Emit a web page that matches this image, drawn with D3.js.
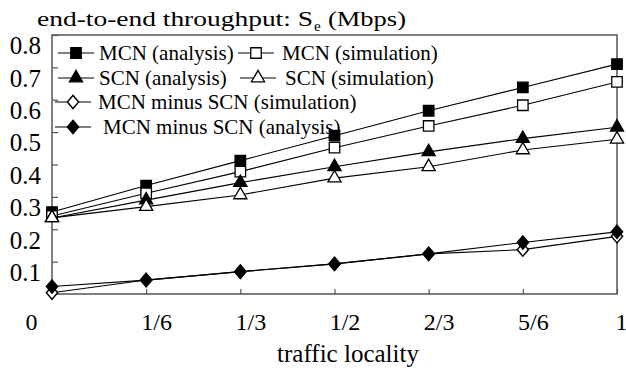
<!DOCTYPE html>
<html>
<head>
<meta charset="utf-8">
<script src="https://cdn.jsdelivr.net/npm/d3@7"></script>
<style>
  body { margin: 0; background: #fff; }
</style>
</head>
<body>
<div id="chart"></div>
<script>
// traffic locality categories
const categories = ['0', '1/6', '1/3', '1/2', '2/3', '5/6', '1'];
const yTicks = [0.1, 0.2, 0.3, 0.4, 0.5, 0.6, 0.7, 0.8];

// end-to-end throughput (Mbps)
const mcnAnalysis = [0.253, 0.335, 0.412, 0.489, 0.566, 0.638, 0.710];
const mcnSimulation = [0.241, 0.311, 0.378, 0.452, 0.519, 0.583, 0.655];
const scnAnalysis = [0.235, 0.290, 0.344, 0.393, 0.439, 0.480, 0.515];
const scnSimulation = [0.235, 0.270, 0.306, 0.358, 0.393, 0.445, 0.478];
const diffSimulation = [0.004, 0.043, 0.069, 0.093, 0.124, 0.137, 0.178];
const diffAnalysis = [0.023, 0.043, 0.069, 0.093, 0.124, 0.159, 0.192];

const series = [
  {name: 'MCN (analysis)', values: mcnAnalysis, shape: 'square', fill: '#000'},
  {name: 'MCN (simulation)', values: mcnSimulation, shape: 'square', fill: '#fff'},
  {name: 'SCN (analysis)', values: scnAnalysis, shape: 'triangle', fill: '#000'},
  {name: 'SCN (simulation)', values: scnSimulation, shape: 'triangle', fill: '#fff'},
  {name: 'MCN minus SCN (simulation)', values: diffSimulation, shape: 'diamond', fill: '#fff'},
  {name: 'MCN minus SCN (analysis)', values: diffAnalysis, shape: 'diamond', fill: '#000'}
];

const FONT = '"Liberation Serif", "DejaVu Serif", serif';

const W = 626, H = 370;
const margin = {top: 35, right: 9, bottom: 76, left: 52};
const width = W - margin.left - margin.right,
  height = H - margin.top - margin.bottom;

const svg = d3.select('#chart').append('svg')
  .attr('width', W)
  .attr('height', H)
  .style('font-family', FONT);

const chart = svg.append('g')
  .attr('transform', 'translate(' + margin.left + ',' + margin.top + ')');

const x = d3.scalePoint()
  .domain(categories)
  .range([0, width]);

const y = d3.scaleLinear()
  .domain([0, 0.8])
  .range([height, 0]);

const symbolType = {square: d3.symbolSquare, triangle: d3.symbolTriangle, diamond: d3.symbolDiamond};
const symbolSize = {square: 110, triangle: 75, diamond: 70};

function marker(sel, s) {
  sel.append('path')
    .attr('d', d3.symbol(symbolType[s.shape], symbolSize[s.shape]))
    .attr('transform', s.shape === 'diamond' ? 'scale(1.25,0.85)' : null)
    .attr('fill', s.fill)
    .attr('stroke', '#000')
    .attr('stroke-width', 1.3);
}

// frame
chart.append('rect')
  .attr('width', width)
  .attr('height', height)
  .attr('fill', 'none')
  .attr('stroke', '#555')
  .attr('stroke-width', 1.5);

// y axis: ticks inward, labels sit a bit low as in the original
const yAxis = chart.append('g')
  .call(d3.axisRight(y).tickValues(yTicks).tickSize(6).tickFormat(d3.format('.1f')))
  .attr('font-family', null)
  .attr('font-size', null);
yAxis.select('.domain').remove();
yAxis.selectAll('.tick line').attr('stroke', '#555').attr('stroke-width', 1.2);
yAxis.selectAll('.tick text')
  .attr('x', -11)
  .attr('dy', '0.75em')
  .attr('text-anchor', 'end')
  .style('font-family', FONT)
  .style('font-size', '25px');

// x axis: ticks inward
const xAxis = chart.append('g')
  .attr('transform', 'translate(0,' + height + ')')
  .call(d3.axisTop(x).tickSize(5))
  .attr('font-family', null)
  .attr('font-size', null);
xAxis.select('.domain').remove();
xAxis.selectAll('.tick line').attr('stroke', '#555').attr('stroke-width', 1.2);
xAxis.selectAll('.tick text')
  .attr('y', 36)
  .attr('dy', 0)
  .attr('dx', (d, i) => i === 0 ? -21 : (i === categories.length - 1 ? 4 : 10))
  .style('font-family', FONT)
  .style('font-size', '24px');

const line = d3.line()
  .x((d, i) => x(categories[i]))
  .y((d) => y(d));

const groups = chart.selectAll('.series')
  .data(series)
  .enter().append('g')
  .attr('class', 'series');

groups.append('path')
  .attr('d', (d) => line(d.values))
  .attr('fill', 'none')
  .attr('stroke', '#000')
  .attr('stroke-width', 1.1);

groups.each(function(s) {
  d3.select(this).selectAll('.pt')
    .data(s.values)
    .enter().append('g')
    .attr('class', 'pt')
    .attr('transform', (d, i) => 'translate(' + x(categories[i]) + ',' + y(d) + ')')
    .each(function() { marker(d3.select(this), s); });
});

// legend
const legendItems = [
  {s: series[0], x: 58, y: 53, tx: 99},
  {s: series[1], x: 238, y: 53, tx: 282},
  {s: series[2], x: 58, y: 78, tx: 99},
  {s: series[3], x: 240, y: 78, tx: 285},
  {s: series[4], x: 55, y: 102, tx: 98},
  {s: series[5], x: 55, y: 127, tx: 103}
];

const legend = svg.selectAll('.legend')
  .data(legendItems)
  .enter().append('g')
  .attr('class', 'legend');

legend.append('line')
  .attr('x1', (d) => d.x)
  .attr('x2', (d) => d.x + 36)
  .attr('y1', (d) => d.y)
  .attr('y2', (d) => d.y)
  .attr('stroke', '#000')
  .attr('stroke-width', 1.1);

legend.each(function(d) {
  const g = d3.select(this).append('g')
    .attr('transform', 'translate(' + (d.x + 18) + ',' + d.y + ')');
  marker(g, d.s);
});

legend.append('text')
  .attr('x', (d) => d.tx)
  .attr('y', (d) => d.y + 7)
  .style('font-size', '21px')
  .text((d) => d.s.name);

// title (the original lettering is wide, so stretch it)
svg.append('text')
  .attr('x', 37)
  .attr('y', 26)
  .attr('textLength', 276)
  .attr('lengthAdjust', 'spacingAndGlyphs')
  .style('font-size', '22px')
  .text('end-to-end throughput: S');
svg.append('text')
  .attr('x', 314)
  .attr('y', 31)
  .style('font-size', '15px')
  .text('e');
svg.append('text')
  .attr('x', 328)
  .attr('y', 26)
  .attr('textLength', 78)
  .attr('lengthAdjust', 'spacingAndGlyphs')
  .style('font-size', '22px')
  .text('(Mbps)');

// x axis title
svg.append('text')
  .attr('x', 348)
  .attr('y', 362)
  .attr('text-anchor', 'middle')
  .style('font-size', '25px')
  .text('traffic locality');
</script>
</body>
</html>
